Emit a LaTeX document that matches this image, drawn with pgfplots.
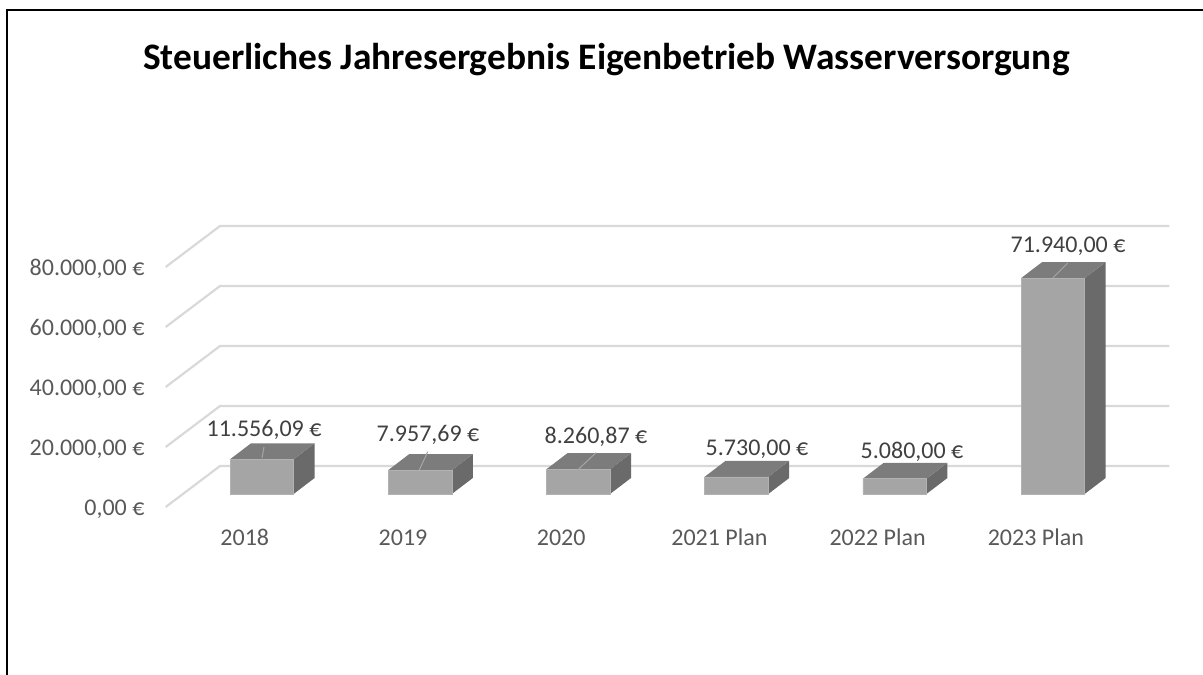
\documentclass[border=0pt]{standalone}
\usepackage{fontspec}
\setmainfont{Carlito}
\usepackage{pgfplots}
\pgfplotsset{compat=1.18}
\definecolor{front}{HTML}{A5A5A5}
\definecolor{topf}{HTML}{7C7C7C}
\definecolor{sidef}{HTML}{6A6A6A}
\definecolor{gridc}{HTML}{D9D9D9}
\definecolor{tickc}{HTML}{595959}
\definecolor{labc}{HTML}{404040}
\definecolor{leadc}{HTML}{A6A6A6}
\newcommand{\lab}{\fontsize{24}{28}\selectfont}
\begin{document}
\begin{tikzpicture}
\begin{axis}[
  scale only axis, width=1203pt, height=675pt,
  xmin=-1.6549, xmax=5.9494, ymin=-60333, ymax=164667,
  axis line style={draw=none},
  major tick length=0pt, tick style={draw=none},
  scaled x ticks=false, scaled y ticks=false,
  xtick={-0.1075,0.8925,1.8925,2.8925,3.8925,4.8925},
  xticklabels={2018,2019,2020,2021 Plan,2022 Plan,2023 Plan},
  ytick={-4333,15667,35667,55667,75667},
  yticklabels={{0,00 €},{20.000,00 €},{40.000,00 €},{60.000,00 €},{80.000,00 €}},
  xticklabel style={anchor=base, yshift=129.6pt, font=\lab, text=tickc},
  yticklabel style={anchor=base east, xshift=148pt, yshift=-8.4pt, font=\lab, text=tickc},
]
% gridlines
\addplot[gridc, line width=2.2pt] coordinates {(-0.6075,-4333) (-0.2642,9333) (5.7364,9333)};
\addplot[gridc, line width=2.2pt] coordinates {(-0.6075,15667) (-0.2642,29333) (5.7364,29333)};
\addplot[gridc, line width=2.2pt] coordinates {(-0.6075,35667) (-0.2642,49333) (5.7364,49333)};
\addplot[gridc, line width=2.2pt] coordinates {(-0.6075,55667) (-0.2642,69333) (5.7364,69333)};
\addplot[gridc, line width=2.2pt] coordinates {(-0.6075,75667) (-0.2642,89333) (5.7364,89333)};
% side faces
\addplot[fill=sidef, draw=none] coordinates {(0.201,0) (0.3337,5333) (0.3337,16889.09) (0.201,11556.09)} --cycle;
\addplot[fill=sidef, draw=none] coordinates {(1.201,0) (1.3337,5333) (1.3337,13290.69) (1.201,7957.69)} --cycle;
\addplot[fill=sidef, draw=none] coordinates {(2.201,0) (2.3337,5333) (2.3337,13593.87) (2.201,8260.87)} --cycle;
\addplot[fill=sidef, draw=none] coordinates {(3.201,0) (3.3337,5333) (3.3337,11063) (3.201,5730)} --cycle;
\addplot[fill=sidef, draw=none] coordinates {(4.201,0) (4.3337,5333) (4.3337,10413) (4.201,5080)} --cycle;
\addplot[fill=sidef, draw=none] coordinates {(5.201,0) (5.3337,5333) (5.3337,77273) (5.201,71940)} --cycle;
% top faces
\addplot[fill=topf, draw=none] coordinates {(-0.201,11556.09) (0.201,11556.09) (0.3337,16889.09) (-0.0683,16889.09)} --cycle;
\addplot[fill=topf, draw=none] coordinates {(0.799,7957.69) (1.201,7957.69) (1.3337,13290.69) (0.9317,13290.69)} --cycle;
\addplot[fill=topf, draw=none] coordinates {(1.799,8260.87) (2.201,8260.87) (2.3337,13593.87) (1.9317,13593.87)} --cycle;
\addplot[fill=topf, draw=none] coordinates {(2.799,5730) (3.201,5730) (3.3337,11063) (2.9317,11063)} --cycle;
\addplot[fill=topf, draw=none] coordinates {(3.799,5080) (4.201,5080) (4.3337,10413) (3.9317,10413)} --cycle;
\addplot[fill=topf, draw=none] coordinates {(4.799,71940) (5.201,71940) (5.3337,77273) (4.9317,77273)} --cycle;
% front faces
\addplot[ybar, bar width=0.402, fill=front, draw=front!85!white, line width=0.6pt] coordinates {
  (0,11556.09) (1,7957.69) (2,8260.87) (3,5730) (4,5080) (5,71940)};
% leader lines
\addplot[leadc, line width=1pt] coordinates {(0.0013,12000) (0.0139,15667)};
\addplot[leadc, line width=1pt] coordinates {(0.9956,8000) (1.0487,14100)};
\addplot[leadc, line width=1pt] coordinates {(1.9968,8000) (2.1125,13767)};
\addplot[leadc, line width=1pt] coordinates {(4.9994,72000) (5.0942,77000)};
% data labels
\node[anchor=base, text=labc, font=\lab] at (axis cs:0.0139,19133) {11.556,09 €};
\node[anchor=base, text=labc, font=\lab] at (axis cs:1.0506,17467) {7.957,69 €};
\node[anchor=base, text=labc, font=\lab] at (axis cs:2.1125,16800) {8.260,87 €};
\node[anchor=base, text=labc, font=\lab] at (axis cs:3.1302,12800) {5.730,00 €};
\node[anchor=base, text=labc, font=\lab] at (axis cs:4.1100,11900) {5.080,00 €};
\node[anchor=base, text=labc, font=\lab] at (axis cs:5.0961,80467) {71.940,00 €};
\end{axis}
\node[anchor=base, text=black, font=\fontsize{37.4}{44}\selectfont\bfseries] at (606.5pt,605pt) {Steuerliches Jahresergebnis Eigenbetrieb Wasserversorgung};
\draw[black, line width=2pt] (7.3pt,0pt) -- (7.3pt,664.5pt) -- (1203pt,664.5pt);
\pgfresetboundingbox
\useasboundingbox (0pt,0pt) rectangle (1203pt,675pt);
\end{tikzpicture}
\end{document}
